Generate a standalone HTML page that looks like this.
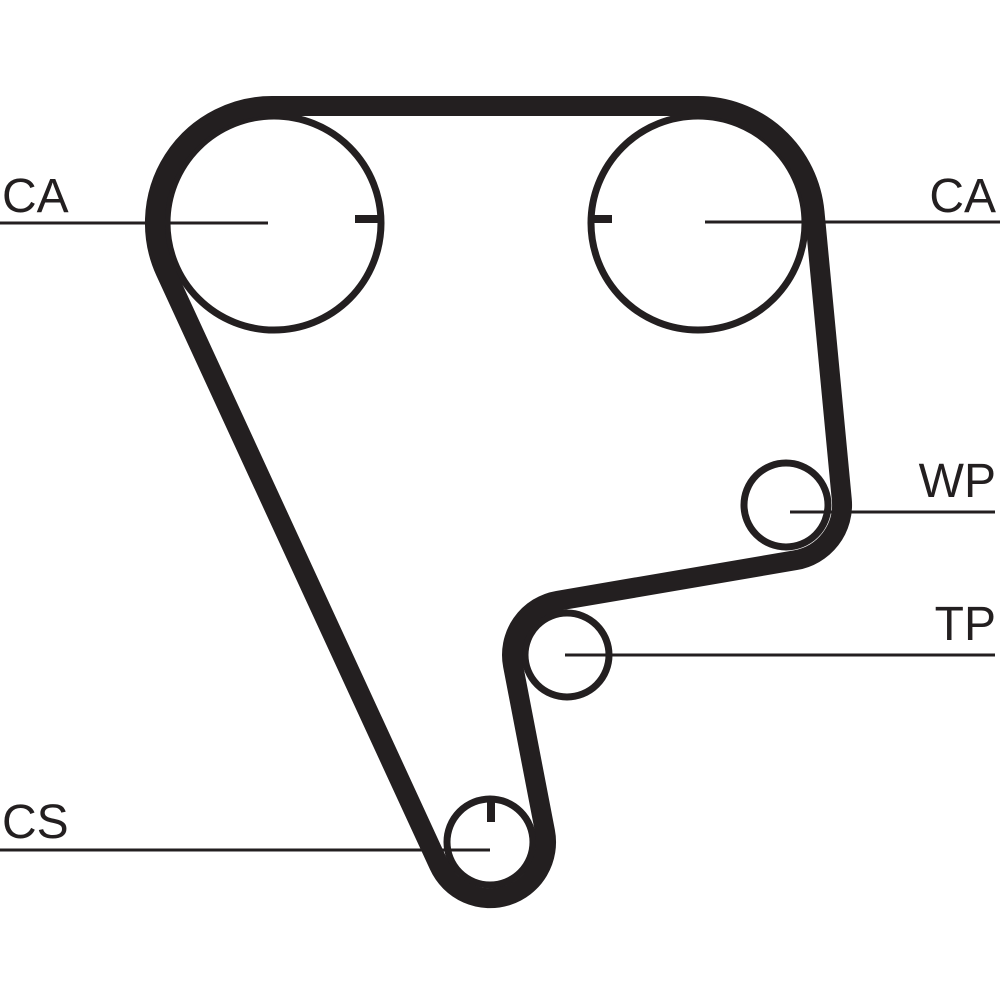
<!DOCTYPE html>
<html><head><meta charset="utf-8"><style>
html,body{margin:0;padding:0;background:#fff;}
svg{display:block;}
text{font-family:"Liberation Sans",sans-serif;font-size:48px;fill:#231f20;}
</style></head><body>
<svg id="s" width="1000" height="1000" viewBox="0 0 1000 1000" xmlns="http://www.w3.org/2000/svg">
<g stroke="#231f20" fill="none">
<circle cx="274" cy="223" r="107" stroke-width="7"/>
<circle cx="698" cy="223" r="107" stroke-width="7"/>
<circle cx="786" cy="505" r="42" stroke-width="7"/>
<circle cx="567" cy="655" r="42" stroke-width="7"/>
<circle cx="490" cy="842" r="43" stroke-width="7"/>
<path id="belt" d="" stroke-width="20" stroke-linejoin="round"/>
<g stroke-width="3">
<line x1="0" y1="223" x2="268" y2="223"/>
<line x1="705" y1="222" x2="1000" y2="222"/>
<line x1="790" y1="512" x2="995" y2="512"/>
<line x1="565" y1="655" x2="995" y2="655"/>
<line x1="0" y1="850" x2="490" y2="850"/>
</g>
<g stroke-width="8">
<line x1="355" y1="219" x2="383" y2="219"/>
<line x1="590" y1="219" x2="612" y2="219"/>
<line x1="491" y1="800" x2="491" y2="822"/>
</g>
</g>
<text x="2" y="212">CA</text>
<text x="996" y="212" text-anchor="end">CA</text>
<text x="996" y="497" text-anchor="end">WP</text>
<text x="996" y="640" text-anchor="end">TP</text>
<text x="2" y="838">CS</text>
</svg>
<script>
(function(){
var P=[[272,223,117,1],[698,223,117,1],[786,505,56,1],[567,655,55,-1],[490,842,56,1]];
var n=P.length,T=[];
for(var i=0;i<n;i++){
 var a=P[i],b=P[(i+1)%n];
 var R1=a[2]*a[3],R2=b[2]*b[3];
 var Dx=b[0]-a[0],Dy=b[1]-a[1],L=Math.hypot(Dx,Dy);
 var hx=Dx/L,hy=Dy/L,lx=hy,ly=-hx;
 var c=(R1-R2)/L,s=Math.sqrt(Math.max(0,1-c*c));
 var nx=c*hx+s*lx,ny=c*hy+s*ly;
 T.push([[a[0]+R1*nx,a[1]+R1*ny],[b[0]+R2*nx,b[1]+R2*ny]]);
}
var d="";
for(var i=0;i<n;i++){
 var seg=T[i],nxt=T[(i+1)%n],p=P[(i+1)%n];
 if(i==0)d+="M"+seg[0][0].toFixed(1)+" "+seg[0][1].toFixed(1);
 d+=" L"+seg[1][0].toFixed(1)+" "+seg[1][1].toFixed(1);
 var a1=Math.atan2(seg[1][1]-p[1],seg[1][0]-p[0]);
 var a2=Math.atan2(nxt[0][1]-p[1],nxt[0][0]-p[0]);
 var sw=p[3]>0?1:0;
 var da=p[3]>0?(a2-a1):(a1-a2);
 while(da<0)da+=2*Math.PI;
 var la=da>Math.PI?1:0;
 d+=" A"+p[2]+" "+p[2]+" 0 "+la+" "+sw+" "+nxt[0][0].toFixed(1)+" "+nxt[0][1].toFixed(1);
}
d+=" Z";
document.getElementById("belt").setAttribute("d",d);
})();
</script>
</body></html>
